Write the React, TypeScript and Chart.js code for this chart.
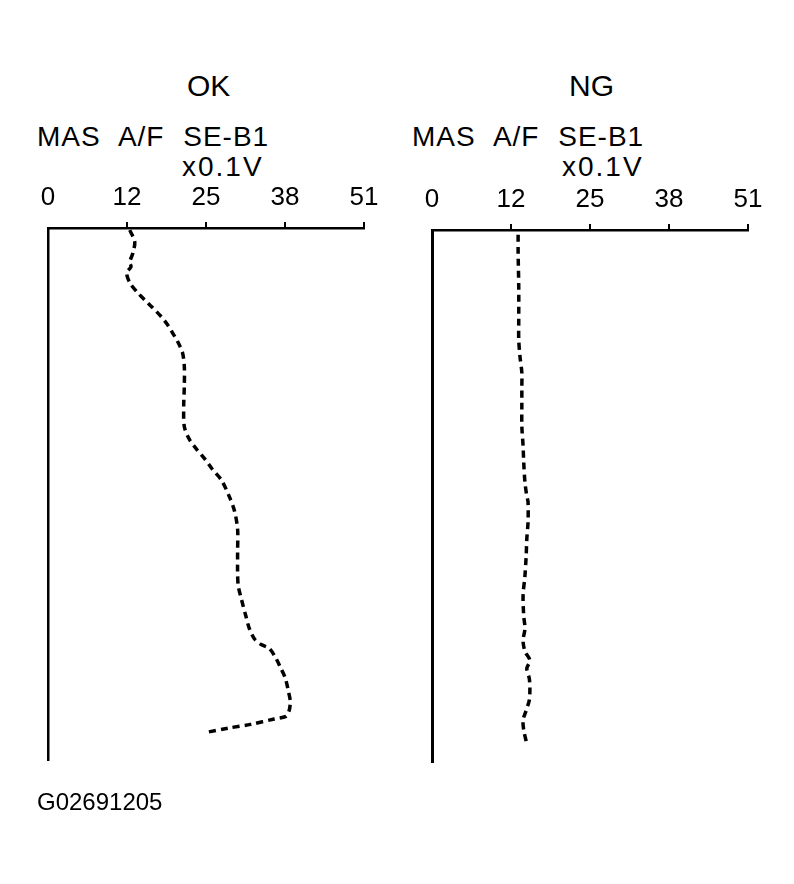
import React, { useEffect, useRef } from 'react';
import { Chart, registerables } from 'chart.js';

Chart.register(...registerables);

// Axis ticks (quarters of the 0–51 range, labelled as printed)
const TICK_VALUES = [0, 12.75, 25.5, 38.25, 51];
const TICK_LABELS = ['0', '12', '25', '38', '51'];

// OK trace: time (0 = top, 100 = bottom) and MAS A/F SE-B1 (x0.1V)
const okTime = [0.4, 2.6, 4.7, 6.4, 7.3, 8.4, 10.3, 12.2, 13.5, 15.0, 16.7, 18.2, 19.7, 21.3, 23.4, 26.0, 29.8, 33.5, 37.3, 39.7, 41.6, 43.4, 45.3, 47.4, 50.6, 53.2, 56.6, 60.9, 64.6, 67.2, 69.7, 72.8, 75.3, 77.2, 78.3, 79.0, 80.9, 82.8, 84.6, 87.1, 89.0, 90.8, 91.8, 92.3, 93.3, 94.0, 94.8];
const okVolt = [13.2, 14.0, 13.7, 13.2, 13.4, 12.7, 13.2, 14.5, 15.6, 16.9, 18.3, 19.3, 20.1, 20.9, 21.7, 22.0, 22.0, 21.9, 22.0, 22.8, 24.0, 25.3, 26.5, 28.0, 29.3, 30.1, 30.6, 30.6, 30.6, 30.7, 31.2, 31.9, 32.5, 33.3, 34.4, 35.7, 36.8, 37.6, 38.3, 38.8, 39.1, 38.9, 38.4, 36.5, 32.7, 29.1, 25.6];

// NG trace
const ngTime = [0.9, 4.3, 10.7, 16.9, 20.6, 23.8, 26.8, 29.4, 33.1, 36.9, 40.6, 43.6, 47.4, 50.0, 51.1, 54.9, 58.1, 61.2, 65.0, 68.7, 72.5, 74.9, 77.2, 79.2, 80.9, 82.4, 84.3, 86.1, 88.4, 90.3, 92.1, 94.0, 96.1];
const ngVolt = [13.9, 13.9, 14.0, 14.0, 14.0, 14.2, 14.5, 14.5, 14.5, 14.5, 14.7, 14.8, 15.0, 15.3, 15.5, 15.5, 15.3, 15.2, 15.0, 14.7, 14.8, 15.0, 14.7, 15.0, 15.8, 15.3, 15.7, 15.8, 15.7, 15.2, 14.7, 14.8, 15.2];

const FONT = '"Liberation Sans", Arial, Helvetica, sans-serif';

interface PanelProps {
  times: number[];
  volts: number[];
  left: number;
  top: number;
  axisWidth: number;
}

const Panel: React.FC<PanelProps> = ({ times, volts, left, top, axisWidth }) => {
  const canvasRef = useRef<HTMLCanvasElement>(null);

  useEffect(() => {
    if (!canvasRef.current) return;
    const chart = new Chart(canvasRef.current, {
      type: 'scatter',
      data: {
        datasets: [
          {
            data: volts.map((v, i) => ({ x: v, y: times[i] })),
            showLine: true,
            borderColor: '#000',
            borderWidth: 3.5,
            borderDash: [7, 5],
            pointRadius: 0,
            tension: 0.3,
          },
        ],
      },
      options: {
        responsive: true,
        maintainAspectRatio: false,
        animation: false,
        layout: { padding: { left: 48, right: 36, top: 0, bottom: 30 } },
        plugins: { legend: { display: false }, tooltip: { enabled: false } },
        scales: {
          x: {
            type: 'linear',
            position: 'top',
            min: 0,
            max: 51,
            afterBuildTicks: (scale: any) => {
              scale.ticks = TICK_VALUES.map(value => ({ value }));
            },
            afterFit: (scale: any) => {
              scale.height = 78;
            },
            ticks: {
              autoSkip: false,
              maxRotation: 0,
              padding: 9,
              color: '#000',
              font: { family: FONT, size: 26 },
              callback: (_v: any, index: number) => TICK_LABELS[index],
            },
            grid: {
              drawOnChartArea: false,
              drawTicks: true,
              tickLength: 6,
              lineWidth: 2,
              color: (ctx: any) => (ctx.index === 0 ? 'rgba(0,0,0,0)' : '#000'),
            },
            border: { display: true, color: '#000', width: 2.5 },
          },
          y: {
            type: 'linear',
            reverse: true,
            min: 0,
            max: 100,
            afterFit: (scale: any) => {
              scale.width = 0;
            },
            ticks: { display: false },
            grid: { display: false, drawTicks: false },
            border: { display: true, color: '#000', width: axisWidth },
          },
        },
      },
    });
    return () => chart.destroy();
  }, [times, volts, axisWidth]);

  return (
    <div style={{ position: 'absolute', left, top, width: 400, height: 640 }}>
      <canvas ref={canvasRef}></canvas>
    </div>
  );
};

const text = (content: string, left: number, top: number, size: number, extra: React.CSSProperties = {}) => (
  <div
    style={{
      position: 'absolute',
      left,
      top,
      fontFamily: FONT,
      fontSize: size,
      lineHeight: 1,
      whiteSpace: 'nowrap',
      color: '#000',
      ...extra,
    }}
  >
    {content}
  </div>
);

export default function App() {
  return (
    <div style={{ position: 'absolute', left: 0, top: 0, width: 794, height: 884, background: '#fff', overflow: 'hidden' }}>
      {text('OK', 187, 71, 30)}
      {text('NG', 569, 71, 30)}
      {text('MAS A/F SE-B1', 37, 123, 28, { wordSpacing: 10, letterSpacing: 1 })}
      {text('MAS A/F SE-B1', 412, 123, 28, { wordSpacing: 10, letterSpacing: 1 })}
      {text('x0.1V', 182, 153, 28, { letterSpacing: 2 })}
      {text('x0.1V', 562, 153, 28, { letterSpacing: 2 })}
      <Panel times={okTime} volts={okVolt} left={0} top={150} axisWidth={2.5} />
      <Panel times={ngTime} volts={ngVolt} left={384} top={152} axisWidth={3} />
      {text('G02691205', 37, 790, 24)}
    </div>
  );
}
